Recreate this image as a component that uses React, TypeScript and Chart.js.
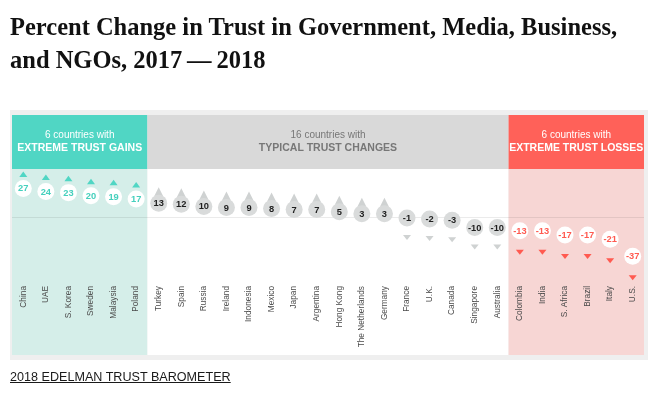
import React, { useEffect, useRef } from "react";
import { Chart, registerables } from "chart.js";

Chart.register(...registerables);

const titleLines = [
  "Percent Change in Trust in Government, Media, Business,",
  "and NGOs, 2017\u2009\u2014\u20092018",
];
const sourceText = "2018 EDELMAN TRUST BAROMETER";

const countries = [
  "China", "UAE", "S. Korea", "Sweden", "Malaysia", "Poland",
  "Turkey", "Spain", "Russia", "Ireland", "Indonesia", "Mexico", "Japan", "Argentina",
  "Hong Kong", "The Netherlands", "Germany", "France", "U.K.", "Canada", "Singapore", "Australia",
  "Colombia", "India", "S. Africa", "Brazil", "Italy", "U.S.",
];
const trustChange = [
  27, 24, 23, 20, 19, 17,
  13, 12, 10, 9, 9, 8, 7, 7, 5, 3, 3, -1, -2, -3, -10, -10,
  -13, -13, -17, -17, -21, -37,
];
const groupCounts = [6, 16, 6];
const groupCaptions = ["6 countries with", "16 countries with", "6 countries with"];
const groupHeadings = ["EXTREME TRUST GAINS", "TYPICAL TRUST CHANGES", "EXTREME TRUST LOSSES"];

const HEADER_FILL = ["#50d6c4", "#d9d9d9", "#ff6159"];
const BODY_FILL = ["#d5eee9", "#ffffff", "#f7d6d4"];
const HEADER_TEXT = ["#ffffff", "#777777", "#ffffff"];
const BUBBLE_FILL = ["#ffffff", "#d9dbdb", "#ffffff"];
const VALUE_TEXT = ["#45d0bd", "#1e1e1e", "#ff5a50"];
const POINTER_FILL = ["#50d6c4", "#cfd2d2", "#ff5a50"];
const SANS = "'Liberation Sans', Arial, Helvetica, sans-serif";

function groupOf(i: number): number {
  let acc = 0;
  for (let g = 0; g < groupCounts.length; g++) {
    acc += groupCounts[g];
    if (i < acc) return g;
  }
  return groupCounts.length - 1;
}

const panelPlugin = {
  id: "panels",
  beforeDraw(chart: any) {
    const { ctx, chartArea, scales } = chart;
    const xs = scales.x;
    const ys = scales.y;
    const step = xs.getPixelForValue(1) - xs.getPixelForValue(0);
    const top = chartArea.top;
    const headerTop = top - 54;
    const bodyBottom = 355;
    ctx.save();
    ctx.fillStyle = "#efefef";
    ctx.fillRect(10, 110, 638, 250);
    let start = 0;
    groupCounts.forEach((n, g) => {
      const x0 = xs.getPixelForValue(start) - step / 2;
      const x1 = xs.getPixelForValue(start + n - 1) + step / 2;
      ctx.fillStyle = HEADER_FILL[g];
      ctx.fillRect(x0, headerTop, x1 - x0, top - headerTop);
      ctx.fillStyle = BODY_FILL[g];
      ctx.fillRect(x0, top, x1 - x0, bodyBottom - top);
      const cx = (x0 + x1) / 2;
      ctx.fillStyle = HEADER_TEXT[g];
      ctx.textAlign = "center";
      ctx.textBaseline = "middle";
      ctx.font = `10px ${SANS}`;
      ctx.fillText(groupCaptions[g], cx, top - 33.5);
      ctx.font = `bold 10.5px ${SANS}`;
      ctx.fillText(groupHeadings[g], cx, top - 21);
      start += n;
    });
    const y0 = Math.round(ys.getPixelForValue(0)) + 0.5;
    ctx.strokeStyle = "rgba(0,0,0,0.08)";
    ctx.lineWidth = 1;
    ctx.beginPath();
    ctx.moveTo(xs.getPixelForValue(0) - step / 2, y0);
    ctx.lineTo(xs.getPixelForValue(countries.length - 1) + step / 2, y0);
    ctx.stroke();
    ctx.restore();
  },
};

const markerPlugin = {
  id: "markers",
  beforeDatasetsDraw(chart: any) {
    const { ctx } = chart;
    const meta = chart.getDatasetMeta(0);
    ctx.save();
    meta.data.forEach((pt: any, i: number) => {
      const g = groupOf(i);
      const v = trustChange[i];
      ctx.fillStyle = POINTER_FILL[g];
      ctx.beginPath();
      if (v >= 0) {
        const apex = g === 0 ? pt.y - 17 : pt.y - 16;
        const base = g === 0 ? pt.y - 11.5 : pt.y - 7;
        const hw = g === 0 ? 4 : 4.5;
        ctx.moveTo(pt.x, apex);
        ctx.lineTo(pt.x + hw, base);
        ctx.lineTo(pt.x - hw, base);
      } else {
        const off = g === 2 ? 19 : 17;
        ctx.moveTo(pt.x - 4, pt.y + off);
        ctx.lineTo(pt.x + 4, pt.y + off);
        ctx.lineTo(pt.x, pt.y + off + 5);
      }
      ctx.closePath();
      ctx.fill();
    });
    ctx.restore();
  },
  afterDatasetsDraw(chart: any) {
    const { ctx } = chart;
    const meta = chart.getDatasetMeta(0);
    ctx.save();
    ctx.textAlign = "center";
    ctx.textBaseline = "middle";
    ctx.font = `bold 9.3px ${SANS}`;
    meta.data.forEach((pt: any, i: number) => {
      ctx.fillStyle = VALUE_TEXT[groupOf(i)];
      ctx.fillText(String(trustChange[i]), pt.x, pt.y + 0.5);
    });
    ctx.restore();
  },
};

export default function App() {
  const ref = useRef<HTMLCanvasElement | null>(null);
  useEffect(() => {
    if (!ref.current) return;
    const chart = new Chart(ref.current, {
      type: "line",
      data: {
        labels: countries,
        datasets: [
          {
            data: trustChange,
            showLine: false,
            pointRadius: 8.5,
            pointHoverRadius: 8.5,
            pointBorderWidth: 0,
            pointBorderColor: "rgba(0,0,0,0)",
            pointBackgroundColor: trustChange.map((_, i) => BUBBLE_FILL[groupOf(i)]),
          },
        ],
      },
      options: {
        responsive: false,
        animation: false,
        events: [],
        layout: { padding: { left: 12, right: 24, top: 169, bottom: 0 } },
        plugins: { legend: { display: false }, tooltip: { enabled: false } },
        scales: {
          x: {
            offset: true,
            grid: { display: false, drawTicks: false },
            border: { display: false },
            ticks: {
              autoSkip: false,
              minRotation: 90,
              maxRotation: 90,
              padding: 3,
              color: "#4a4a4a",
              font: { family: SANS, size: 8.3 },
            },
            afterFit: (s: any) => {
              s.height = 123;
            },
          },
          y: { display: false, min: -62.3, max: 45.3 },
        },
      },
      plugins: [panelPlugin, markerPlugin],
    });
    return () => chart.destroy();
  }, []);

  return (
    <div style={{ position: "absolute", left: 0, top: 0, width: 668, height: 406, background: "#fff" }}>
      <canvas ref={ref} width={668} height={406} style={{ position: "absolute", left: 0, top: 0 }} />
      <div
        style={{
          position: "absolute",
          left: 10,
          top: 10,
          font: "bold 24.5px 'Liberation Serif', 'Times New Roman', serif",
          lineHeight: "33px",
          color: "#111",
          whiteSpace: "nowrap",
        }}
      >
        {titleLines.map((t) => (
          <div key={t}>{t}</div>
        ))}
      </div>
      <div
        style={{
          position: "absolute",
          left: 10,
          top: 369,
          font: `12.6px ${SANS}`,
          lineHeight: "16px",
          color: "#1a1a1a",
          textDecoration: "underline",
          whiteSpace: "nowrap",
        }}
      >
        {sourceText}
      </div>
    </div>
  );
}
